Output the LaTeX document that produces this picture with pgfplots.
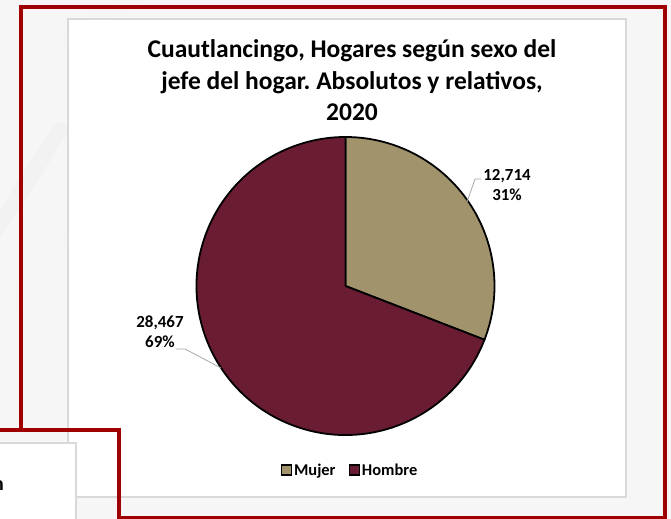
\documentclass[border=0pt]{standalone}
\usepackage{pgfplots}
\pgfplotsset{compat=1.18}
\usepackage{pgfplotstable}
\usepackage{fontspec}
\setmainfont{Carlito}

\definecolor{marco}{RGB}{160,0,0}
\definecolor{borde}{RGB}{217,217,217}
\definecolor{fondo}{RGB}{247,246,246}
\definecolor{mujer}{RGB}{161,147,107}
\definecolor{hombre}{RGB}{106,28,50}
\definecolor{guia}{RGB}{166,166,166}

\pgfplotstableread{
sexo valor
Mujer 12714
Hombre 28467
}\hogares

\pgfkeys{/pgf/number format/.cd,1000 sep={,},assume math mode=true}

\begin{document}
\frenchspacing
\begin{tikzpicture}[x=1bp,y=1bp]
\pgfplotstablegetelem{0}{valor}\of\hogares \let\vmujer\pgfplotsretval
\pgfplotstablegetelem{1}{valor}\of\hogares \let\vhombre\pgfplotsretval
\edef\angfin{\fpeval{90-360*\vmujer/(\vmujer+\vhombre)}}
\edef\pmujer{\fpeval{round(100*\vmujer/(\vmujer+\vhombre))}}
\edef\phombre{\fpeval{round(100*\vhombre/(\vmujer+\vhombre))}}
\path[use as bounding box] (0,0) rectangle (671,519);
\begin{axis}[at={(0,0)},anchor=south west,scale only axis,
  width=671bp,height=519bp,xmin=0,xmax=671,ymin=0,ymax=519,
  y dir=reverse,hide axis,clip=false,
  legend image code/.code={\draw[#1,line width=1.4bp] (0bp,-5bp) rectangle (10bp,5bp);},
  legend style={at={(axis cs:350,470)},anchor=center,draw=none,fill=none,
    legend columns=2,font=\fontsize{16.5}{19}\selectfont\bfseries,
    /tikz/every even column/.append style={column sep=11bp},
    nodes={inner xsep=2bp}}]
% fondo y marcos
\fill[fondo] (axis cs:0,0) rectangle (axis cs:671,519);
\draw[black!5,line width=16bp,line cap=round] (axis cs:-10,240) -- (axis cs:60,130);
\draw[black!4,line width=12bp,line cap=round] (axis cs:-10,330) -- (axis cs:60,240);
\draw[black!4,line width=12bp,line cap=round] (axis cs:60,40) -- (axis cs:140,-5);
\fill[white,draw=borde,line width=1.5bp] (axis cs:68,19) rectangle (axis cs:626,497);
\draw[marco,line width=4bp] (axis cs:21,430) -- (axis cs:21,7) -- (axis cs:665,7)
  -- (axis cs:665,517.5) -- (axis cs:119,517.5);
\fill[white,draw=borde,line width=1.5bp] (axis cs:-5,443) rectangle (axis cs:76,530);
\draw[marco,line width=4bp] (axis cs:-5,430) -- (axis cs:119,430) -- (axis cs:119,530);
\node[anchor=base east,inner sep=0pt,font=\fontsize{20}{24}\selectfont\bfseries] at (axis cs:4,490) {n};
% titulo
\node[anchor=base,inner sep=0pt,font=\fontsize{25.6}{30}\selectfont\bfseries] at (axis cs:352,58) {Cuautlancingo, Hogares según sexo del};
\node[anchor=base,inner sep=0pt,font=\fontsize{25.6}{30}\selectfont\bfseries] at (axis cs:352,90) {jefe del hogar. Absolutos y relativos,};
\node[anchor=base,inner sep=0pt,font=\fontsize{25.6}{30}\selectfont\bfseries] at (axis cs:352,121) {2020};
% pastel
\filldraw[mujer,draw=black,line width=1.8bp,line join=round] (axis cs:345.5,286) -- ++(90:149bp)
  arc[start angle=90,end angle=\angfin,radius=149bp] -- cycle;
\filldraw[hombre,draw=black,line width=1.8bp,line join=round] (axis cs:345.5,286) -- ++(\angfin:149bp)
  arc[start angle=\angfin,end angle=-270,radius=149bp] -- cycle;
% etiquetas
\draw[guia,line width=0.8bp] (axis cs:467,202) -- (axis cs:475,179) -- (axis cs:481,179);
\draw[guia,line width=0.8bp] (axis cs:176,349) -- (axis cs:185,349) -- (axis cs:221,368);
\node[anchor=base,inner sep=0pt,font=\fontsize{17}{20}\selectfont\bfseries] at (axis cs:507,181) {\pgfmathprintnumber{\vmujer}};
\node[anchor=base,inner sep=0pt,font=\fontsize{17}{20}\selectfont\bfseries] at (axis cs:507,201) {\pmujer\%};
\node[anchor=base,inner sep=0pt,font=\fontsize{17}{20}\selectfont\bfseries] at (axis cs:160,328) {\pgfmathprintnumber{\vhombre}};
\node[anchor=base,inner sep=0pt,font=\fontsize{17}{20}\selectfont\bfseries] at (axis cs:160,348) {\phombre\%};
% leyenda
\addlegendimage{fill=mujer,draw=black}
\addlegendentry{Mujer}
\addlegendimage{fill=hombre,draw=black}
\addlegendentry{Hombre}
\end{axis}
\end{tikzpicture}
\end{document}
